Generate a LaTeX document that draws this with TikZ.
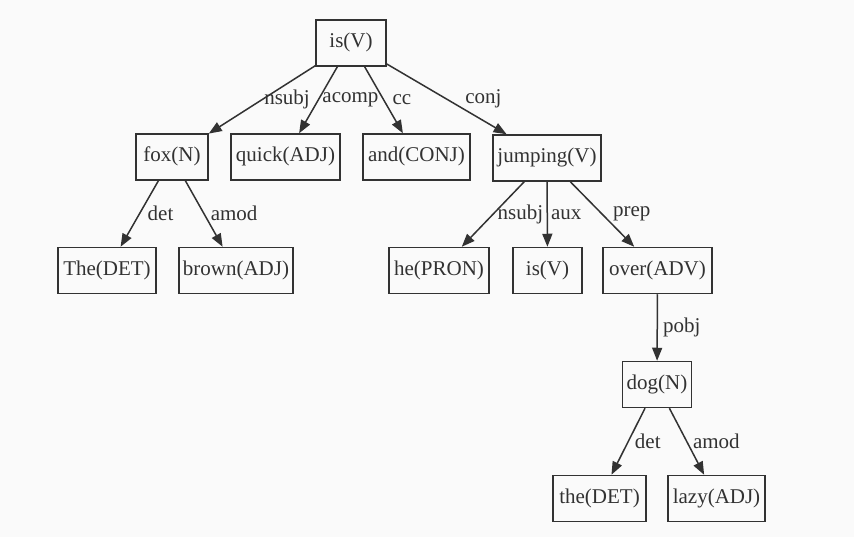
\documentclass[tikz,border=0pt]{standalone}
\usepackage{fontspec}
\setmainfont{Liberation Serif}
\usetikzlibrary{arrows.meta}
\definecolor{ink}{RGB}{50,50,50}
\definecolor{paper}{RGB}{250,250,250}
\begin{document}
\begin{tikzpicture}[x=1pt,y=-1pt,
  tok/.style={draw=ink, text=ink, line width=1.5pt, minimum height=46pt, inner sep=0pt,
    font=\fontsize{21}{25}\selectfont, text height=14.5pt, text depth=4.5pt},
  dep/.style={draw=ink, line width=1.5pt, -{Triangle[length=13pt,width=10pt]}},
  lbl/.style={anchor=west, inner sep=0pt, text=ink, font=\fontsize{21}{25}\selectfont, midway}]
\fill[paper] (0,0) rectangle (854,537);
\useasboundingbox (0,0) rectangle (854,537);
% nodes
\node[tok, minimum width=70pt]  (is)    at (351,43)    {is(V)};
\node[tok, minimum width=72pt]  (fox)   at (172,157)   {fox(N)};
\node[tok, minimum width=109pt] (quick) at (285.5,157) {quick(ADJ)};
\node[tok, minimum width=107pt] (and)   at (416.5,157) {and(CONJ)};
\node[tok, minimum width=108pt] (jump)  at (547,158)   {jumping(V)};
\node[tok, minimum width=98pt]  (The)   at (107,270.5) {The(DET)};
\node[tok, minimum width=114pt] (brown) at (236,270.5) {brown(ADJ)};
\node[tok, minimum width=100pt] (he)    at (439,270.5) {he(PRON)};
\node[tok, minimum width=69pt]  (isb)   at (547.5,270.5) {is(V)};
\node[tok, minimum width=109pt] (over)  at (657.5,270.5) {over(ADV)};
\node[tok, minimum width=69pt]  (dog)   at (657,384.5) {dog(N)};
\node[tok, minimum width=93pt]  (the)   at (599.5,498.5) {the(DET)};
\node[tok, minimum width=97pt]  (lazy)  at (716.5,498.5) {lazy(ADJ)};
% edges
\draw[dep] (is) -- (fox)   node[lbl, xshift=1.5pt] {nsubj};
\draw[dep] (is) -- (quick) node[lbl, xshift=3.5pt] {acomp};
\draw[dep] (is) -- (and)   node[lbl, xshift=8pt] {cc};
\draw[dep] (is) -- (jump)  node[lbl, xshift=18pt] {conj};
\draw[dep] (fox) -- (The)   node[lbl, xshift=7.5pt] {det};
\draw[dep] (fox) -- (brown) node[lbl, xshift=6pt] {amod};
\draw[dep] (jump) -- (he)   node[lbl, xshift=4pt] {nsubj};
\draw[dep] (jump) -- (isb)  node[lbl, xshift=3pt] {aux};
\draw[dep] (jump) -- (over) node[lbl, xshift=10pt] {prep};
\draw[dep] (over) -- (dog)  node[lbl, xshift=5pt] {pobj};
\draw[dep] (dog) -- (the)   node[lbl, xshift=6pt] {det};
\draw[dep] (dog) -- (lazy)  node[lbl, xshift=5.5pt] {amod};
\end{tikzpicture}
\end{document}
